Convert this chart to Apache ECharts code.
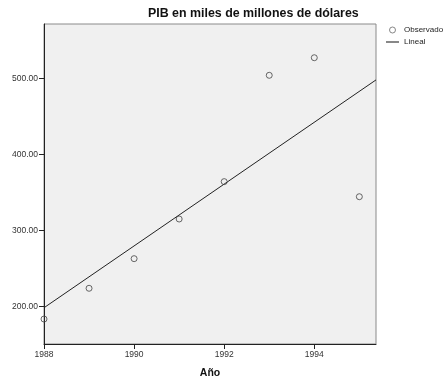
<!DOCTYPE html>
<html>
<head>
<meta charset="utf-8">
<script src="https://cdn.jsdelivr.net/npm/echarts@6/dist/echarts.min.js"></script>
<style>html,body{margin:0;padding:0;background:#fff;}#c{width:444px;height:379px;}</style>
</head>
<body>
<div id="c"></div>
<script>
var years = [1988, 1989, 1990, 1991, 1992, 1993, 1994, 1995];
var pib = [183.8, 224.2, 263.1, 315.2, 364.3, 504.0, 527.1, 344.5];
var xTicks = [1988, 1990, 1992, 1994];
var yTicks = [200, 300, 400, 500];
var xMin = 1988, xMax = 1995.37, yMin = 151, yMax = 571.4;

// least squares fit from observed values
var n = years.length, mx = 0, my = 0;
for (var i = 0; i < n; i++) { mx += years[i]; my += pib[i]; }
mx /= n; my /= n;
var sxy = 0, sxx = 0;
for (var i = 0; i < n; i++) { sxy += (years[i] - mx) * (pib[i] - my); sxx += (years[i] - mx) * (years[i] - mx); }
var slope = sxy / sxx, intercept = my - slope * mx;
var fitLine = [[xMin, intercept + slope * xMin], [xMax, intercept + slope * xMax]];

var obs = years.map(function (y, i) { return [y, pib[i]]; });
var font = 'Liberation Sans, Arial, sans-serif';

var chart = echarts.init(document.getElementById('c'), null, { renderer: 'canvas' });
chart.setOption({
  animation: false,
  backgroundColor: '#ffffff',
  title: {
    text: 'PIB en miles de millones de dólares',
    left: 148, top: 8, padding: 0,
    textStyle: { fontFamily: font, fontSize: 12.4, fontWeight: 'bold', color: '#111' }
  },
  legend: {
    orient: 'vertical', left: 386, top: 26, padding: 0,
    itemWidth: 13, itemHeight: 6, itemGap: 4,
    textStyle: { fontFamily: font, fontSize: 8, color: '#222' },
    data: [
      { name: 'Observado', icon: 'circle',
        itemStyle: { color: 'rgba(0,0,0,0)', borderColor: '#444', borderWidth: 0.8 } },
      { name: 'Lineal', icon: 'path://M0,0 H13 V1 H0 Z',
        itemStyle: { color: '#111', borderWidth: 0 } }
    ]
  },
  grid: {
    left: 44, right: 68, top: 24, bottom: 35,
    outerBoundsMode: 'none', containLabel: false,
    show: true, backgroundColor: '#f0f0f0', borderColor: '#8a8a8a', borderWidth: 1
  },
  xAxis: {
    type: 'value', min: xMin, max: xMax,
    name: 'Año', nameLocation: 'middle', nameGap: 24,
    nameTextStyle: { fontFamily: font, fontSize: 10.5, fontWeight: 'bold', color: '#111' },
    axisLine: { show: true, lineStyle: { color: '#222', width: 1 } },
    axisTick: { show: true, length: 5, customValues: xTicks, lineStyle: { color: '#222' } },
    axisLabel: { customValues: xTicks, fontFamily: font, fontSize: 8.5, color: '#333', margin: 6,
      formatter: function (v) { return String(v); } },
    splitLine: { show: false }
  },
  yAxis: {
    type: 'value', min: yMin, max: yMax,
    axisLine: { show: true, lineStyle: { color: '#222', width: 1 } },
    axisTick: { show: true, length: 5, customValues: yTicks, lineStyle: { color: '#222' } },
    axisLabel: { customValues: yTicks, fontFamily: font, fontSize: 8.5, color: '#333', margin: 6,
      formatter: function (v) { return v.toFixed(2); } },
    splitLine: { show: false }
  },
  series: [
    {
      name: 'Observado', type: 'scatter', data: obs, symbol: 'circle', symbolSize: 6,
      itemStyle: { color: 'rgba(0,0,0,0)', borderColor: '#444', borderWidth: 1 },
      clip: true, z: 3
    },
    {
      name: 'Lineal', type: 'line', data: fitLine, symbol: 'none',
      lineStyle: { color: '#222', width: 1 }, itemStyle: { color: '#222' },
      clip: true, z: 2
    }
  ]
});
</script>
</body>
</html>
